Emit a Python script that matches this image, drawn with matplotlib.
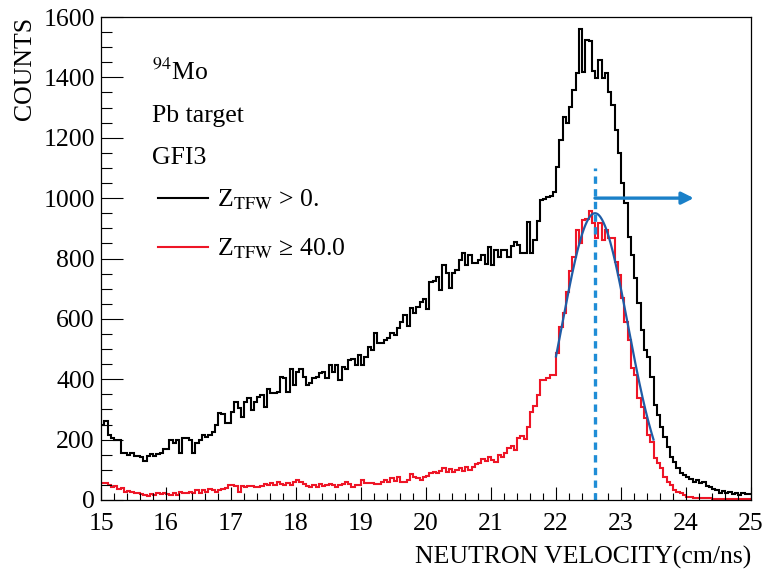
import numpy as np
import matplotlib
matplotlib.use("Agg")
import matplotlib.pyplot as plt

plt.rcParams["font.family"] = ["Liberation Serif", "DejaVu Serif"]
plt.rcParams["mathtext.fontset"] = "stix"

# binning: 200 bins of 0.05 cm/ns between 15 and 25
X_MIN, X_MAX, N_BINS = 15.0, 25.0, 200

# counts, all fragments (Z_TFW > 0)
counts_all = [
    248, 262, 215, 204, 200, 200, 157, 157, 149, 155,
    146, 146, 141, 130, 146, 152, 146, 152, 157, 168,
    168, 200, 190, 200, 157, 204, 207, 200, 157, 190,
    200, 215, 210, 215, 226, 248, 287, 284, 254, 254,
    291, 325, 305, 275, 325, 338, 298, 325, 341, 348,
    308, 368, 355, 355, 358, 408, 404, 358, 434, 381,
    424, 434, 408, 381, 387, 404, 408, 421, 424, 404,
    447, 424, 447, 397, 441, 434, 464, 467, 447, 480,
    447, 474, 507, 497, 553, 520, 520, 530, 537, 553,
    547, 570, 590, 613, 576, 636, 619, 639, 656, 666,
    633, 722, 725, 739, 696, 778, 752, 702, 752, 762,
    795, 818, 778, 811, 785, 785, 795, 811, 782, 838,
    778, 828, 805, 828, 828, 805, 841, 855, 845, 818,
    818, 921, 818, 861, 924, 994, 997, 1004, 1007, 1020,
    1103, 1192, 1269, 1249, 1302, 1358, 1414, 1560, 1418, 1523,
    1520, 1420, 1397, 1457, 1397, 1414, 1350, 1310, 1225, 1149,
    1050, 983, 871, 811, 735, 652, 563, 497, 474, 408,
    315, 282, 242, 209, 176, 143, 127, 105, 88, 82,
    77, 68, 60, 65, 55, 60, 46, 44, 38, 33,
    23, 31, 23, 27, 20, 24, 16, 23, 20, 20,
]

# counts with Z_TFW >= 40
counts_heavy = [
    56, 56, 50, 43, 46, 36, 40, 27, 30, 27,
    23, 23, 20, 17, 13, 20, 17, 23, 20, 23,
    20, 17, 23, 17, 27, 23, 23, 27, 23, 33,
    23, 33, 27, 36, 33, 27, 33, 36, 40, 50,
    50, 46, 27, 46, 43, 46, 46, 43, 43, 46,
    53, 50, 56, 50, 60, 53, 50, 56, 50, 60,
    66, 60, 53, 46, 43, 50, 43, 53, 46, 50,
    53, 50, 43, 50, 53, 60, 53, 43, 50, 50,
    66, 56, 56, 56, 53, 53, 60, 66, 60, 73,
    63, 76, 60, 60, 66, 86, 76, 73, 66, 76,
    79, 89, 93, 89, 96, 106, 93, 103, 93, 99,
    106, 96, 109, 99, 109, 119, 123, 136, 129, 143,
    132, 126, 149, 143, 156, 172, 179, 166, 205, 212,
    202, 242, 291, 311, 348, 397, 397, 405, 414, 414,
    487, 573, 620, 690, 760, 805, 894, 851, 927, 930,
    957, 917, 868, 917, 861, 894, 868, 868, 788, 745,
    669, 590, 530, 437, 414, 338, 308, 272, 215, 192,
    139, 123, 106, 76, 60, 50, 33, 27, 23, 17,
    10, 10, 8, 7, 5, 5, 5, 5, 3, 4,
    3, 2, 3, 3, 2, 3, 2, 2, 3, 2,
]

# gaussian fit of the heavy-fragment peak
FIT_AMP, FIT_MEAN, FIT_SIGMA = 950.0, 22.6, 0.51
FIT_RANGE = (22.0, 23.5)

# velocity cut and arrow
CUT_V = 22.6
CUT_TOP = 1100
ARROW_Y, ARROW_END = 1000, 24.12

FS = 18.5

edges = np.linspace(X_MIN, X_MAX, N_BINS + 1)

fig = plt.figure(figsize=(7.63, 5.79), dpi=100)
ax = fig.add_axes([101 / 763, 1 - 500 / 579, 650 / 763, 483 / 579])

h_all = ax.stairs(counts_all, edges, baseline=None, color="black", lw=1.5,
                  label=r"Z$_{\mathrm{TFW}}$ > 0.")
h_heavy = ax.stairs(counts_heavy, edges, baseline=None, color="#ee1526", lw=1.5,
                    label=r"Z$_{\mathrm{TFW}}$ ≥ 40.0")

xf = np.linspace(*FIT_RANGE, 200)
ax.plot(xf, FIT_AMP * np.exp(-0.5 * ((xf - FIT_MEAN) / FIT_SIGMA) ** 2),
        color="#1f5ca6", lw=1.6)

ax.vlines(CUT_V, 0, CUT_TOP, colors="#1f8dd6", linestyles=(0, (2.2, 1.6)), lw=2.4)
ax.annotate("", xy=(ARROW_END, ARROW_Y), xytext=(CUT_V, ARROW_Y),
            arrowprops=dict(arrowstyle="-|>", color="#1a80c8", lw=2.4,
                            mutation_scale=18, shrinkA=0, shrinkB=0))

ax.set_xlim(X_MIN, X_MAX)
ax.set_ylim(0, 1600)
ax.set_xticks(np.arange(15, 26, 1))
ax.set_xticks(np.arange(15, 25.01, 0.2), minor=True)
ax.set_yticks(np.arange(0, 1601, 200))
ax.set_yticks(np.arange(0, 1601, 50), minor=True)
ax.tick_params(axis="both", which="both", direction="in", top=False, right=False,
               labelsize=FS)
ax.tick_params(axis="x", which="major", length=9.5, width=0.8, pad=9)
ax.tick_params(axis="x", which="minor", length=5, width=0.8)
ax.tick_params(axis="y", which="major", length=16, width=0.8, pad=4.5)
ax.tick_params(axis="y", which="minor", length=8, width=0.8)
for s in ax.spines.values():
    s.set_linewidth(0.9)

ax.set_xlabel("NEUTRON VELOCITY(cm/ns)", fontsize=FS, loc="right", labelpad=8)
ax.set_ylabel("COUNTS", fontsize=FS, loc="top", labelpad=5)

ax.text(0.078, 0.886, r"$^{94}$Mo", transform=ax.transAxes, fontsize=FS, va="center")
ax.text(0.078, 0.795, "Pb target", transform=ax.transAxes, fontsize=FS, va="center")
ax.text(0.078, 0.708, "GFI3", transform=ax.transAxes, fontsize=FS, va="center")

ax.legend(handles=[h_all, h_heavy], loc="upper left", bbox_to_anchor=(0.072, 0.668),
          frameon=False, fontsize=FS, handlelength=1.95, handletextpad=0.35,
          labelspacing=0.95, borderaxespad=0)

fig.savefig("out.png", dpi=100)
